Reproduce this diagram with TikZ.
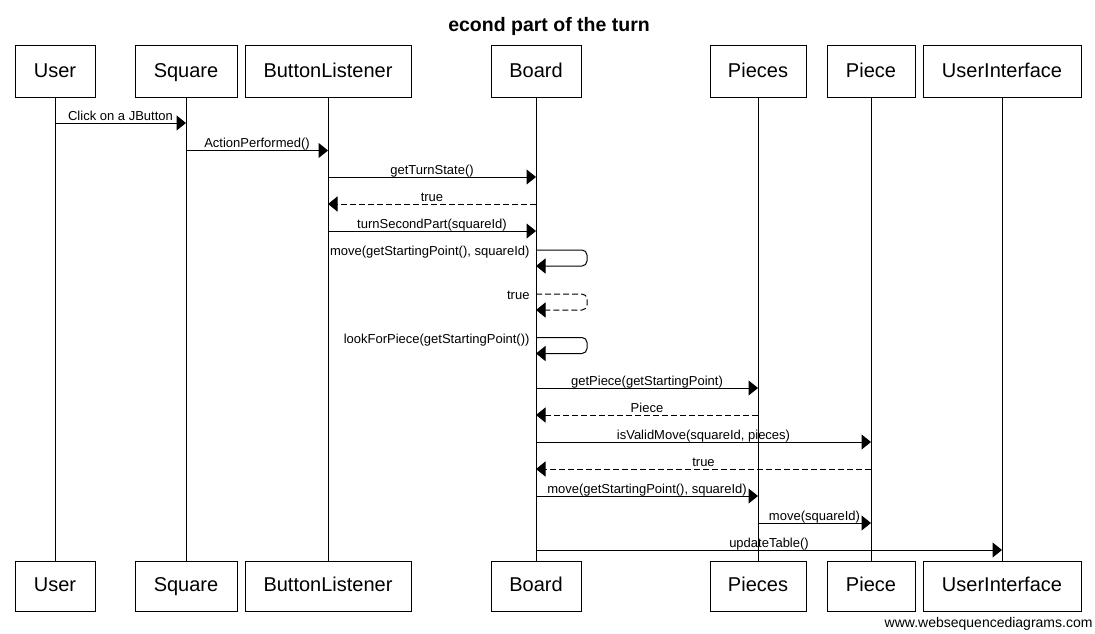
\documentclass[tikz,border=0pt]{standalone}
\usepackage{fontspec}
\setmainfont{Liberation Sans}
\usetikzlibrary{arrows.meta}
\newcommand\msgline[5]{\draw[#5] (#1 |- 0,#3) -- node[lbl]{#4} (#2 |- 0,#3);}
\newcommand\selfmsg[4]{%
  \draw[#4,rounded corners=5pt] (#1 |- 0,#2) -- ++(51,0) -- ++(0,16) -- (#1 |- 0,#2+16);
  \node[slbl] at (#1 |- 0,#2) {#3};}
\begin{document}
\begin{tikzpicture}[x=1pt,y=-1pt,line width=1pt,
  actor/.style={draw,fill=white,minimum height=51pt,inner sep=0pt,text height=15.5pt,text depth=4pt,font=\fontsize{20}{24}\selectfont},
  actorb/.style={actor,minimum height=50pt},
  life/.style={draw},
  msg/.style={-{Triangle[length=9.5pt,width=15pt]},line join=miter},
  ret/.style={msg,dash pattern=on 6pt off 3pt},
  lbl/.style={anchor=base,inner sep=0pt,yshift=3pt,font=\fontsize{13}{15}\selectfont},
  slbl/.style={anchor=base east,inner sep=0pt,xshift=-6pt,yshift=-5.5pt,font=\fontsize{13}{15}\selectfont}]
\useasboundingbox (0,0) rectangle (1095,634);
\node[anchor=base,font=\fontsize{19.5}{23}\selectfont\bfseries] (title) at (549,32) {econd part of the turn};
% top boxes
\node[actor,minimum width=80pt] (u) at (55,71.5) {User};
\node[actor,minimum width=102pt] (sq) at (186,71.5) {Square};
\node[actor,minimum width=166pt] (bl) at (328,71.5) {ButtonListener};
\node[actor,minimum width=90pt] (bd) at (536,71.5) {Board};
\node[actor,minimum width=96pt] (ps) at (758,71.5) {Pieces};
\node[actor,minimum width=88pt] (pc) at (871,71.5) {Piece};
\node[actor,minimum width=158pt] (ui) at (1002,71.5) {UserInterface};
% bottom boxes
\node[actorb,minimum width=80pt] (ub) at (55,586) {User};
\node[actorb,minimum width=102pt] (sqb) at (186,586) {Square};
\node[actorb,minimum width=166pt] (blb) at (328,586) {ButtonListener};
\node[actorb,minimum width=90pt] (bdb) at (536,586) {Board};
\node[actorb,minimum width=96pt] (psb) at (758,586) {Pieces};
\node[actorb,minimum width=88pt] (pcb) at (871,586) {Piece};
\node[actorb,minimum width=158pt] (uib) at (1002,586) {UserInterface};
% lifelines
\foreach \a/\b in {u/ub,sq/sqb,bl/blb,bd/bdb,ps/psb,pc/pcb,ui/uib}
  \draw[life] (\a.south) -- (\b.north);
% messages
\msgline{u}{sq}{123}{Click on a JButton}{msg}
\msgline{sq}{bl}{150.5}{ActionPerformed()}{msg}
\msgline{bl}{bd}{177}{getTurnState()}{msg}
\msgline{bd}{bl}{204}{true}{ret}
\msgline{bl}{bd}{231}{turnSecondPart(squareId)}{msg}
\selfmsg{bd}{250}{move(getStartingPoint(), squareId)}{msg}
\selfmsg{bd}{294}{true}{ret}
\selfmsg{bd}{337.5}{lookForPiece(getStartingPoint())}{msg}
\msgline{bd}{ps}{388}{getPiece(getStartingPoint)}{msg}
\msgline{ps}{bd}{415}{Piece}{ret}
\msgline{bd}{pc}{442}{isValidMove(squareId, pieces)}{msg}
\msgline{pc}{bd}{469}{true}{ret}
\msgline{bd}{ps}{496}{move(getStartingPoint(), squareId)}{msg}
\msgline{ps}{pc}{523}{move(squareId)}{msg}
\msgline{bd}{ui}{550}{updateTable()}{msg}
\node[anchor=base east,inner sep=0pt,font=\fontsize{14}{16}\selectfont] (footer) at (1093,627.5) {www.websequencediagrams.com};
\end{tikzpicture}
\end{document}
